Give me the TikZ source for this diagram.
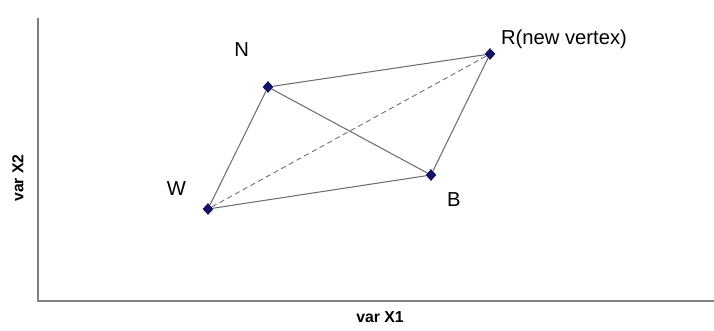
\documentclass[tikz,border=0pt]{standalone}
\usepackage{fontspec}
\setmainfont{Liberation Sans}
\usetikzlibrary{positioning}
\usetikzlibrary{shapes.geometric}
\definecolor{pontoazul}{RGB}{20,20,100}
\definecolor{linhacinza}{RGB}{110,110,110}
\begin{document}
\begin{tikzpicture}[
    font=\fontsize{11.5}{13}\selectfont,
    vertice/.style={diamond, fill=pontoazul, inner sep=0pt,
                    minimum width=0.22cm, minimum height=0.24cm},
    aresta/.style={draw=linhacinza, line width=0.6pt},
    eixo/.style={draw=gray, line width=1.6pt},
    rotulo/.style={inner sep=1pt},
    eixorotulo/.style={font=\fontsize{9}{11}\selectfont\bfseries}
  ]
  \useasboundingbox (0,0) rectangle (14.28,6.6);

  % ── eixos ───────────────────────────────────────────────────────
  \coordinate (origem) at (0.76, 0.58);
  \coordinate (topo)   at (0.76, 6.24);
  \coordinate (fim)    at (14.28, 0.58);
  \draw[eixo] (topo) -- (origem) -- (fim);

  \node[eixorotulo, rotate=90] (rx2) at (0.36, 3.04) {var X2};
  \node[eixorotulo]            (rx1) at (7.6, 0.26)  {var X1};

  % ── vertices do simplex ─────────────────────────────────────────
  \node[vertice] (W) at (4.16, 2.42) {};
  \node[vertice] (N) at (5.36, 4.86) {};
  \node[vertice] (B) at (8.62, 3.10) {};
  \node[vertice] (R) at (9.80, 5.52) {};

  \node[rotulo, above left=0.56cm and 0.34cm of N.center] {N};
  \node[rotulo, above left=0.22cm and 0.40cm of W.center] {W};
  \node[rotulo, below right=0.30cm and 0.28cm of B.center] {B};
  \node[rotulo, above right=0.06cm and 0.18cm of R.center] {R(new vertex)};

  % ── arestas ─────────────────────────────────────────────────────
  \draw[aresta] (W) -- (N);
  \draw[aresta] (N) -- (B);
  \draw[aresta] (W) -- (B);
  \draw[aresta] (N) -- (R);
  \draw[aresta] (B) -- (R);
  \draw[aresta, densely dashed, line width=0.5pt] (W) -- (R);

\end{tikzpicture}
\end{document}
